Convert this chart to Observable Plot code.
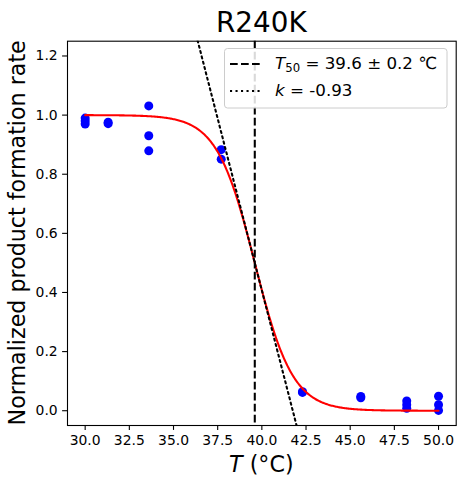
<!DOCTYPE html>
<html>
<head>
<meta charset="utf-8">
<script src="https://cdn.jsdelivr.net/npm/d3@7"></script>
<script src="https://cdn.jsdelivr.net/npm/@observablehq/plot@0.6"></script>
<style>
  html, body { margin: 0; padding: 0; background: #fff; }
  svg { display: block; }
</style>
</head>
<body>
<div id="chart"></div>
<script>
// ---- data ----
const temps = [30, 30, 30, 31.3, 31.3, 33.6, 33.6, 33.6, 37.7, 37.7, 42.3, 42.3, 45.6, 45.6, 48.2, 48.2, 48.2, 50, 50, 50];
const rates = [0.99, 0.98, 0.97, 0.976, 0.971, 1.031, 0.930, 0.879, 0.883, 0.851, 0.064, 0.062, 0.048, 0.044, 0.033, 0.020, 0.008, 0.049, 0.020, 0.001];
const T50 = 39.6;
const T50err = 0.2;
const kFit = -0.93;
const fitRange = [30, 50];
const xTicks = [30, 32.5, 35, 37.5, 40, 42.5, 45, 47.5, 50];
const yTicks = [0, 0.2, 0.4, 0.6, 0.8, 1.0, 1.2];
const xDomain = [29, 51];
const yDomain = [-0.05, 1.25];
const title = "R240K";

const points = temps.map((t, i) => ({t, r: rates[i]}));
const logistic = t => 1 / (1 + Math.exp(-kFit * (t - T50)));
const curve = d3.range(fitRange[0], fitRange[1] + 1e-9, 0.05).map(t => ({t, r: logistic(t)}));
const tangent = xDomain.map(t => ({t, r: 0.5 + (kFit / 4) * (t - T50)}));

const font = "DejaVu Sans, sans-serif";
const plot = Plot.plot({
  width: 464,
  height: 487,
  marginLeft: 67,
  marginRight: 8.3,
  marginTop: 40.7,
  marginBottom: 62,
  style: {fontFamily: font, fontSize: "13.9px", color: "black", background: "white"},
  x: {domain: xDomain, label: null},
  y: {domain: yDomain, label: null},
  marks: [
    Plot.axisX({ticks: xTicks, tickFormat: d => d.toFixed(1), tickSize: 4.9, tickPadding: 4.9, strokeWidth: 1.1, label: null, fontSize: 13.9}),
    Plot.axisY({ticks: yTicks, tickFormat: d => d.toFixed(1), tickSize: 4.9, tickPadding: 4.9, strokeWidth: 1.1, label: null, fontSize: 13.9}),
    Plot.dot(points, {x: "t", y: "r", r: 4.5, fill: "blue", stroke: "none"}),
    Plot.line(curve, {x: "t", y: "r", stroke: "red", strokeWidth: 2.08}),
    Plot.ruleX([T50], {stroke: "black", strokeWidth: 2.08, strokeDasharray: "7.7,3.3"}),
    Plot.line(tangent, {x: "t", y: "r", stroke: "black", strokeWidth: 2.08, strokeDasharray: "2.1,3.4", clip: true}),
    Plot.frame({stroke: "black", strokeWidth: 1.1})
  ]
});
document.getElementById("chart").appendChild(plot);

const svg = d3.select(plot);
const xs = plot.scale("x"), ys = plot.scale("y");
const cx = (xs.range[0] + xs.range[1]) / 2;
const cy = (ys.range[0] + ys.range[1]) / 2;

// title
svg.append("text").attr("x", cx).attr("y", 31.7).attr("text-anchor", "middle")
  .attr("font-family", font).attr("font-size", 27.8).attr("fill", "black").text(title);

// x label
const xl = svg.append("text").attr("x", cx).attr("y", 472).attr("text-anchor", "middle")
  .attr("font-family", font).attr("font-size", 22.2).attr("fill", "black");
xl.append("tspan").attr("font-style", "italic").text("T");
xl.append("tspan").text(" (°C)");

// y label
svg.append("text").attr("transform", `translate(25,${cy}) rotate(-90)`).attr("text-anchor", "middle")
  .attr("font-family", font).attr("font-size", 22.2).attr("fill", "black")
  .text("Normalized product formation rate");

// legend
const lg = svg.append("g").attr("font-family", font).attr("font-size", 16.7).attr("text-anchor", "start");
lg.append("path").attr("d", "M227.5,48.5 H444 Q447,48.5 447,51.5 V105 Q447,108 444,108 H227.5 Q224.5,108 224.5,105 V51.5 Q224.5,48.5 227.5,48.5 Z")
  .style("fill", "rgba(255,255,255,0.85)").style("stroke", "#cccccc").style("stroke-width", "1px");
lg.append("line").attr("x1", 230).attr("x2", 262).attr("y1", 64).attr("y2", 64)
  .style("stroke", "black").style("stroke-width", "2.08px").style("stroke-dasharray", "7.7,3.3");
lg.append("line").attr("x1", 230).attr("x2", 262).attr("y1", 91).attr("y2", 91)
  .style("stroke", "black").style("stroke-width", "2.08px").style("stroke-dasharray", "2.1,3.4");
const t1 = lg.append("text").attr("x", 275).attr("y", 69).style("fill", "black").attr("text-anchor", "start");
t1.append("tspan").attr("font-style", "italic").text("T");
t1.append("tspan").attr("font-size", 11.7).attr("dy", 3).text("50");
t1.append("tspan").attr("dy", -3).text(` = ${T50.toFixed(1)} ± ${T50err.toFixed(1)} ℃`);
const t2 = lg.append("text").attr("x", 275).attr("y", 96).style("fill", "black").attr("text-anchor", "start");
t2.append("tspan").attr("font-style", "italic").text("k");
t2.append("tspan").text(` = ${kFit.toFixed(2)}`);
</script>
</body>
</html>
